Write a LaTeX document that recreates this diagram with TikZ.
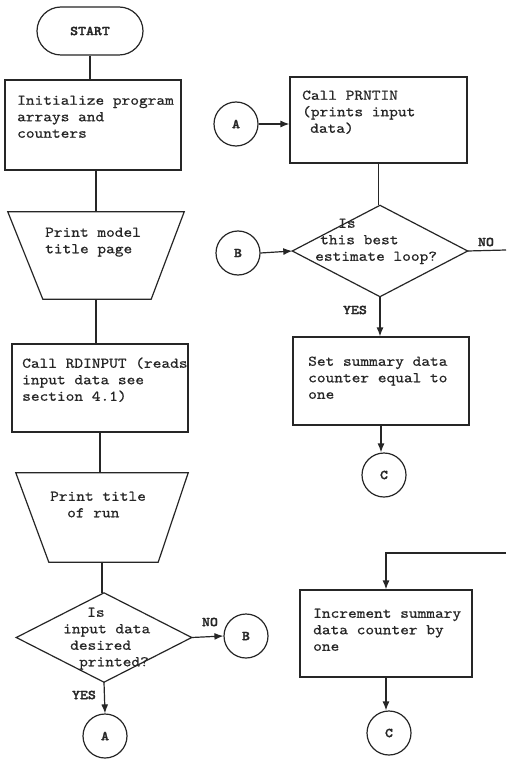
\documentclass[tikz,border=0pt]{standalone}
\usepackage{fontspec}
\setmonofont{lmmono10-regular.otf}[FakeStretch=1.12, FakeBold=0.6,
  BoldFont=lmmonolt10-bold.otf, BoldFeatures={FakeBold=1.8}]
\usetikzlibrary{arrows.meta,calc}
\definecolor{inkc}{RGB}{38,38,38}
\newcommand{\flowtext}{\ttfamily\fontsize{14.8}{16.5}\selectfont}
\newcommand{\flowlabel}{\ttfamily\bfseries\fontsize{13.5}{14}\selectfont}
\tikzset{
  line/.style={draw=inkc, line width=1.2pt},
  arr/.style={line, -{Latex[length=9pt,width=7pt]}},
  procbox/.style={rectangle, line, inner sep=0pt},
  frame/.style={rectangle, draw=none, inner sep=0pt},
  terminal/.style={rectangle, line, rounded corners=24pt, inner sep=0pt,
    minimum width=106pt, minimum height=48pt, font=\flowlabel, text=inkc},
  conn/.style={circle, line, minimum size=44pt, inner sep=0pt,
    font=\flowlabel, text=inkc},
  txt/.style={anchor=north west, align=left, inner sep=0pt, font=\flowtext, text=inkc},
  lbl/.style={inner sep=0pt, font=\flowlabel, text=inkc},
}
\begin{document}
\begin{tikzpicture}[x=1pt,y=-1pt]
\useasboundingbox[fill=white] (0,0) rectangle (506,759);

% ---------------- left column ----------------
\node[terminal] (start) at (90,31) {START};

\node[procbox, minimum width=176pt, minimum height=90pt] (init) at (93,125) {};
\node[txt] (initT) at (17,93) {\strut Initialize program\\arrays and\\counters};

\node[frame, minimum width=176pt, minimum height=87pt] (t1) at (96,255.5) {};
\draw[line] (t1.north west) -- (t1.north east) -- ([xshift=-33pt]t1.south east)
  -- ([xshift=35pt]t1.south west) -- cycle;
\node[txt] (t1T) at (45,225) {\strut Print model\\title page};

\node[procbox, minimum width=176pt, minimum height=88pt] (rd) at (100,388) {};
\node[txt] (rdT) at (22,356) {\strut Call RDINPUT (reads\\input data see\\section 4.1)};

\node[frame, minimum width=172pt, minimum height=89pt] (t2) at (102,517.5) {};
\draw[line] (t2.north west) -- (t2.north east) -- ([xshift=-30pt]t2.south east)
  -- ([xshift=33pt]t2.south west) -- cycle;
\node[txt] (t2T) at (50,489) {\strut Print title\\\hspace*{17pt}of run};

\node[frame, minimum width=175pt, minimum height=89pt] (d1) at (104,637.5) {};
\draw[line] (d1.north) -- (d1.east) -- (d1.south) -- (d1.west) -- cycle;
\node[txt] (d1T) at (63,605) {\strut\hspace*{24pt}Is\\input data\\\hspace*{7pt}desired\\\hspace*{16pt}printed?};

\node[conn] (B1) at (246,636) {B};
\node[conn] (A1) at (105,736) {A};
\node[lbl] (no1) at (210,622) {NO};
\node[lbl] (yes1) at (84,695) {YES};

% ---------------- right column ----------------
\node[conn] (A2) at (236,124) {A};
\node[procbox, minimum width=177pt, minimum height=86pt] (prn) at (378.5,120) {};
\node[txt] (prnT) at (302,88) {\strut Call PRNTIN\\(prints input\\\hspace*{8pt}data)};

\node[frame, minimum width=175pt, minimum height=91pt] (d2) at (380,251) {};
\draw[line] (d2.north) -- (d2.east) -- (d2.south) -- (d2.west) -- cycle;
\node[txt] (d2T) at (315,216) {\strut\hspace*{23pt}Is\\\hspace*{5pt}this best\\estimate loop?};
\node[conn] (B2) at (238,253) {B};
\node[lbl] (no2) at (486,242) {NO};
\node[lbl] (yes2) at (355,310) {YES};
\coordinate (noEnd) at (506,250);

\node[procbox, minimum width=176pt, minimum height=88pt] (set) at (381,381) {};
\node[txt] (setT) at (308,354) {\strut Set summary data\\counter equal to\\one};
\node[conn] (C1) at (384,475) {C};

\coordinate (loopIn) at (506,553);
\node[procbox, minimum width=172pt, minimum height=87pt] (inc) at (386,633.5) {};
\node[txt] (incT) at (313,606) {\strut Increment summary\\data counter by\\one};
\node[conn] (C2) at (389,733) {C};

% ---------------- connectors ----------------
\draw[line] (start.south) -- (start.south |- init.north);
\draw[line] (t1.north |- init.south) -- (t1.north);
\draw[line] (t1.south) -- (t1.south |- rd.north);
\draw[line] (rd.south) -- (rd.south |- t2.north);
\draw[line] (t2.south) -- (t2.south |- d1.north);
\draw[arr] (d1.east) -- (B1.west);
\draw[arr] (d1.south) -- (A1.north);

\draw[arr] (A2.east) -- (A2.east -| prn.west);
\draw[line] (prn.south) -- (prn.south |- d2.north);
\draw[arr] (B2.east) -- (d2.west);
\draw[line] (d2.east) -- (noEnd);
\draw[arr] (d2.south) -- (d2.south |- set.north);
\draw[arr] (set.south) -- (set.south |- C1.north);
\draw[arr] (loopIn) -| (inc.north);
\draw[arr] (inc.south) -- (inc.south |- C2.north);
\end{tikzpicture}
\end{document}
